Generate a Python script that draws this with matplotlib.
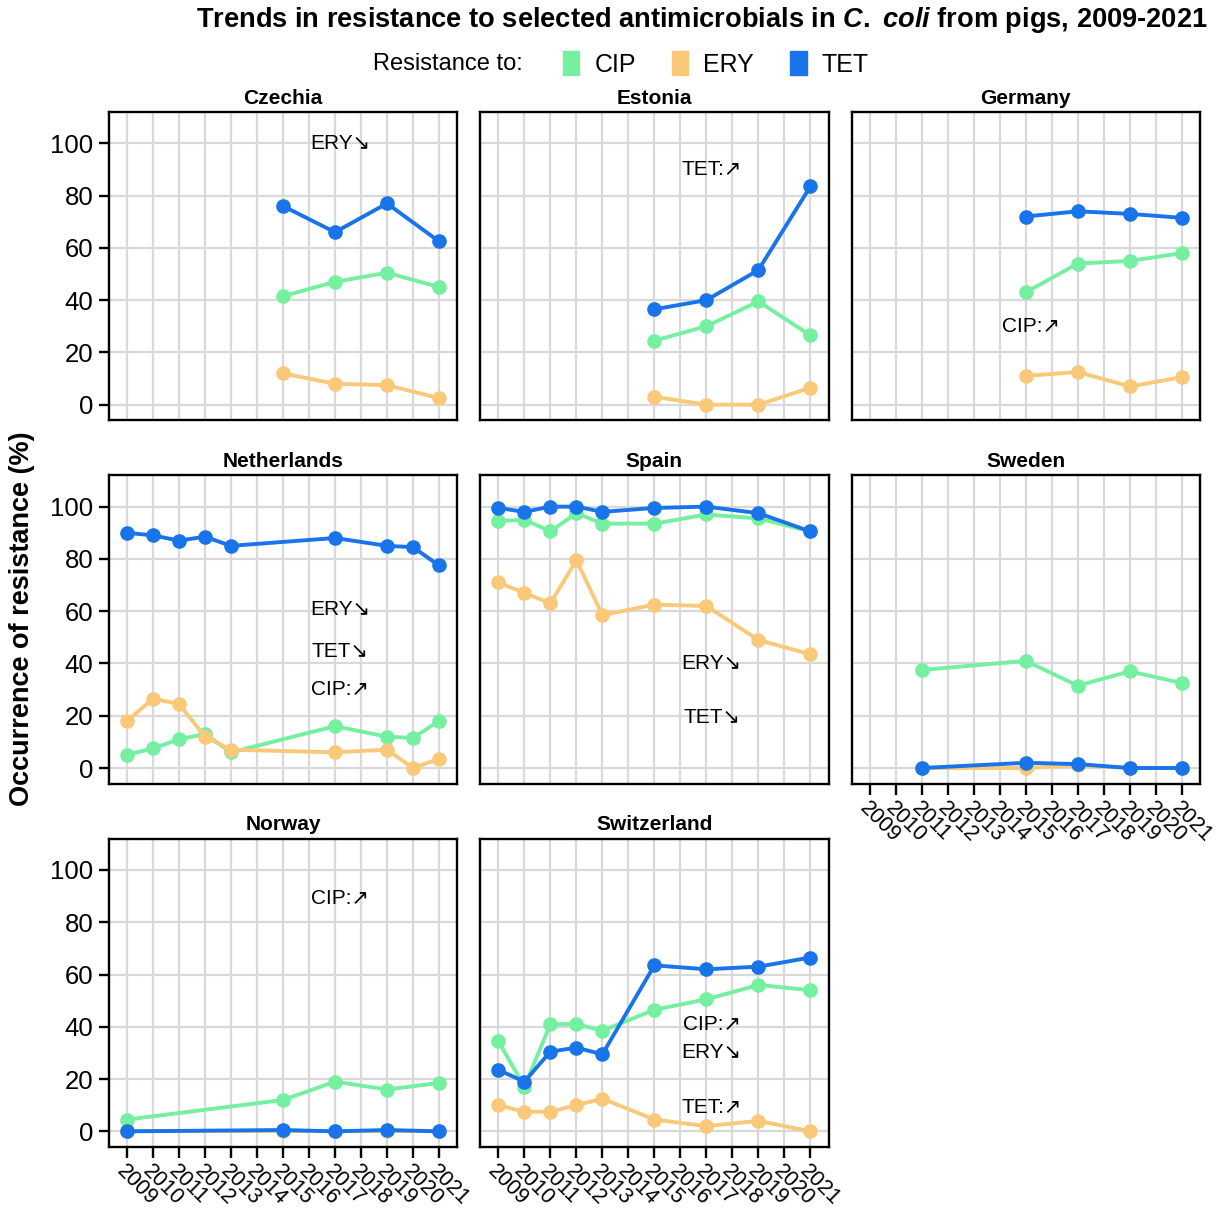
import matplotlib.pyplot as plt
from matplotlib.patches import Patch

plt.rcParams['font.family'] = ['Liberation Sans', 'DejaVu Sans']
plt.rcParams['mathtext.fontset'] = 'custom'
plt.rcParams['mathtext.it'] = 'Liberation Sans:italic:bold'
plt.rcParams['mathtext.rm'] = 'Liberation Sans:bold'

# ---------------- DATA ----------------
year_ticks = list(range(2009, 2022))

czechia_years = [2015, 2017, 2019, 2021]
czechia_cip = [41.5, 47, 50.5, 45]
czechia_ery = [12, 8, 7.5, 2.5]
czechia_tet = [76, 66, 77, 62.5]

estonia_years = [2015, 2017, 2019, 2021]
estonia_cip = [24.5, 30, 39.5, 26.5]
estonia_ery = [3, 0, 0, 6.5]
estonia_tet = [36.5, 40, 51.5, 83.5]

germany_years = [2015, 2017, 2019, 2021]
germany_cip = [43, 54, 55, 58]
germany_ery = [11, 12.5, 7, 10.5]
germany_tet = [72, 74, 73, 71.5]

netherlands_years = [2009, 2010, 2011, 2012, 2013, 2017, 2019, 2020, 2021]
netherlands_cip = [5, 7.5, 11, 13, 6, 16, 12, 11.5, 18]
netherlands_ery = [18, 26.5, 24.5, 12, 7, 6, 7, 0, 3.5]
netherlands_tet = [90, 89, 87, 88.5, 85, 88, 85, 84.5, 77.5]

spain_years = [2009, 2010, 2011, 2012, 2013, 2015, 2017, 2019, 2021]
spain_cip = [94.5, 95, 90.5, 97.5, 93.5, 93.5, 97, 95.5, 90.5]
spain_ery = [71, 67, 63, 79.5, 58.5, 62.5, 62, 49, 43.5]
spain_tet = [99.5, 98, 100, 100, 98, 99.5, 100, 97.5, 90.5]

sweden_years = [2011, 2015, 2017, 2019, 2021]
sweden_cip = [37.5, 41, 31.5, 37, 32.5]
sweden_ery = [0, 0, 1, 0, 0]
sweden_tet = [0, 2, 1.5, 0, 0]

norway_years = [2009, 2015, 2017, 2019, 2021]
norway_cip = [4.5, 12, 19, 16, 18.5]
norway_ery = [0, 0, 0, 0, 0]
norway_tet = [0, 0.5, 0, 0.5, 0]

switzerland_years = [2009, 2010, 2011, 2012, 2013, 2015, 2017, 2019, 2021]
switzerland_cip = [34.5, 17, 41, 41, 38.5, 46.5, 50.5, 56, 54]
switzerland_ery = [10, 7.5, 7.5, 10, 12.5, 4.5, 2, 4, 0]
switzerland_tet = [23.5, 19, 30.5, 32, 29.5, 63.5, 62, 63, 66.5]

# trend labels: (text, x, y)
czechia_notes = [("ERY\u2198", 2017.2, 100)]
estonia_notes = [("TET:\u2197", 2017.2, 90)]
germany_notes = [("CIP:\u2197", 2015.2, 30)]
netherlands_notes = [("ERY\u2198", 2017.2, 60.5), ("TET\u2198", 2017.2, 44.5), ("CIP:\u2197", 2017.2, 30)]
spain_notes = [("ERY\u2198", 2017.2, 40), ("TET\u2198", 2017.2, 19.5)]
sweden_notes = []
norway_notes = [("CIP:\u2197", 2017.2, 89)]
switzerland_notes = [("CIP:\u2197", 2017.2, 41), ("ERY\u2198", 2017.2, 30), ("TET:\u2197", 2017.2, 9)]

panels = [
    ("Czechia", czechia_years, czechia_cip, czechia_ery, czechia_tet, czechia_notes),
    ("Estonia", estonia_years, estonia_cip, estonia_ery, estonia_tet, estonia_notes),
    ("Germany", germany_years, germany_cip, germany_ery, germany_tet, germany_notes),
    ("Netherlands", netherlands_years, netherlands_cip, netherlands_ery, netherlands_tet, netherlands_notes),
    ("Spain", spain_years, spain_cip, spain_ery, spain_tet, spain_notes),
    ("Sweden", sweden_years, sweden_cip, sweden_ery, sweden_tet, sweden_notes),
    ("Norway", norway_years, norway_cip, norway_ery, norway_tet, norway_notes),
    ("Switzerland", switzerland_years, switzerland_cip, switzerland_ery, switzerland_tet, switzerland_notes),
]

col_cip = '#74F0A0'
col_ery = '#F9C979'
col_tet = '#1874E8'

# ---------------- FIGURE ----------------
fig, axes = plt.subplots(3, 3, figsize=(12.22, 12.13), dpi=100)
plt.subplots_adjust(left=0.089, right=0.982, top=0.9077, bottom=0.0544,
                    wspace=0.066, hspace=0.178)

for i, (name, yrs, cip, ery, tet, notes) in enumerate(panels):
    ax = axes[i // 3][i % 3]
    ax.plot(yrs, cip, marker='o', color=col_cip, lw=2.8, ms=9.5, zorder=3)
    ax.plot(yrs, ery, marker='o', color=col_ery, lw=2.8, ms=9.5, zorder=3)
    ax.plot(yrs, tet, marker='o', color=col_tet, lw=2.8, ms=9.5, zorder=3)
    for txt, x, y in notes:
        ax.text(x, y, txt, ha='center', va='center', fontsize=15, zorder=4)
    ax.set_xlim(2008.3, 2021.7)
    ax.set_ylim(-6, 112)
    ax.set_xticks(year_ticks)
    ax.set_yticks([0, 20, 40, 60, 80, 100])
    ax.grid(True, color='#d9d9d9', lw=1.6, zorder=0)
    ax.set_axisbelow(True)
    for s in ax.spines.values():
        s.set_linewidth(1.7)
        s.set_color('black')
    ax.set_title(name, fontsize=15, fontweight='bold', pad=6)

    show_x = name in ("Sweden", "Norway", "Switzerland")
    show_y = (i % 3 == 0)
    ax.tick_params(axis='x', length=8 if show_x else 0, width=1.7,
                   labelbottom=show_x, labelsize=15.5, pad=2)
    ax.tick_params(axis='y', length=7 if show_y else 0, width=1.7,
                   labelleft=show_y, labelsize=18.5, pad=4)
    if show_x:
        for lab in ax.get_xticklabels():
            lab.set_rotation(-45)
            lab.set_ha('left')
            lab.set_va('top')
            lab.set_rotation_mode('anchor')

axes[2][2].remove()

fig.text(0.988, 1 - 20 / 1213,
         r"Trends in resistance to selected antimicrobials in $\mathit{C.}$ $\mathit{coli}$ from pigs, 2009-2021",
         ha='right', va='center', fontsize=19.6, fontweight='bold')

fig.text(22 / 1222, 1 - 619 / 1213, "Occurrence of resistance (%)", rotation=90,
         ha='center', va='center', fontsize=19.5, fontweight='bold')

fig.text(523 / 1222, 1 - 64 / 1213, "Resistance to:", ha='right', va='center',
         fontsize=17)
handles = [Patch(color=col_cip), Patch(color=col_ery), Patch(color=col_tet)]
leg = fig.legend(handles, ["CIP", "ERY", "TET"], loc='center left',
                 bbox_to_anchor=(553 / 1222, 1 - 64 / 1213), ncol=3, frameon=False,
                 handlelength=0.65, handleheight=1.05, handletextpad=0.6,
                 columnspacing=1.45, borderaxespad=0, prop={'size': 18})

fig.savefig("out.png", dpi=100)
